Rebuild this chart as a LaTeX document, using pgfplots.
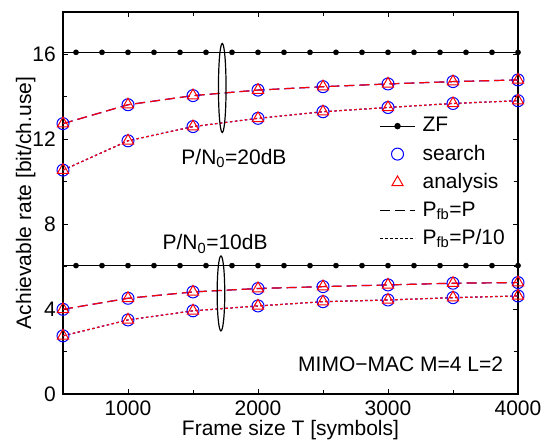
\documentclass[border=0pt]{standalone}
\usepackage{fontspec}
\setmainfont{Liberation Sans}
\usepackage{pgfplots}
\pgfplotsset{compat=1.18}
\begin{document}
\fontsize{21bp}{25bp}\selectfont
\begin{tikzpicture}
\useasboundingbox (-63bp,-51bp) rectangle (486bp,394bp);
\begin{axis}[
 scale only axis, width=455bp, height=382bp,
 xmin=500, xmax=4000, ymin=0, ymax=18,
 xtick={1000,2000,3000,4000}, minor xtick={1500,2500,3500},
 ytick={0,4,8,12,16}, minor ytick={2,6,10,14},
 tick align=inside, major tick length=5bp, minor tick length=4bp,
 axis line style={line width=1.2bp},
 every tick/.style={black, line width=0.9bp},
 /pgf/number format/assume math mode=true,
 /pgf/number format/1000 sep={},
 tick label style={font=\fontsize{21bp}{25bp}\selectfont},
 label style={font=\fontsize{21bp}{25bp}\selectfont},
 xlabel={Frame size T [symbols]},
 ylabel={Achievable rate [bit/ch.use]},
 xlabel style={at={(axis description cs:0.5,-0.095)}, anchor=center},
 ylabel style={at={(axis description cs:-0.082,0.5)}, anchor=center},
 clip=false,
 legend image code/.code={\draw[mark repeat=2,mark phase=2,#1] plot coordinates {(0bp,0bp) (17.5bp,0bp) (35bp,0bp)};},
 legend style={draw=none, fill=none, at={(0.695,0.73)}, anchor=north west,
   font=\fontsize{21bp}{25bp}\selectfont, row sep=6bp, inner sep=0pt},
 legend cell align=left,
]
% ZF lines
\addplot[black, line width=1.2bp, forget plot] coordinates {(500,16.1)(4000,16.1)};
\addplot[black, only marks, mark=*, mark size=2.6bp, forget plot] coordinates {
(600,16.1)(800,16.1)(1000,16.1)(1200,16.1)(1400,16.1)(1600,16.1)(1800,16.1)(2000,16.1)(2200,16.1)
(2400,16.1)(2600,16.1)(2800,16.1)(3000,16.1)(3200,16.1)(3400,16.1)(3600,16.1)(3800,16.1)(4000,16.1)};
\addplot[black, line width=1.2bp, forget plot] coordinates {(500,6.05)(4000,6.05)};
\addplot[black, only marks, mark=*, mark size=2.6bp, forget plot] coordinates {
(600,6.05)(800,6.05)(1000,6.05)(1200,6.05)(1400,6.05)(1600,6.05)(1800,6.05)(2000,6.05)(2200,6.05)
(2400,6.05)(2600,6.05)(2800,6.05)(3000,6.05)(3200,6.05)(3400,6.05)(3600,6.05)(3800,6.05)(4000,6.05)};
% 20 dB, P_fb = P
\addplot[blue, line width=1.2bp, dash pattern=on 10bp off 5bp, mark=o, mark size=6bp, mark options={solid, line width=1bp}, forget plot] coordinates {
(500,12.74)(1000,13.63)(1500,14.06)(2000,14.32)(2500,14.48)(3000,14.61)(3500,14.72)(4000,14.80)};
\addplot[red, line width=1.2bp, dash pattern=on 10bp off 5bp, mark=triangle, mark size=6.5bp, mark options={solid, line width=1bp}, forget plot] coordinates {
(500,12.74)(1000,13.63)(1500,14.06)(2000,14.32)(2500,14.48)(3000,14.61)(3500,14.72)(4000,14.80)};
% 20 dB, P_fb = P/10
\addplot[blue, line width=1.2bp, dash pattern=on 2.5bp off 2.5bp, mark=o, mark size=6bp, mark options={solid, line width=1bp}, forget plot] coordinates {
(500,10.55)(1000,11.93)(1500,12.60)(2000,12.99)(2500,13.30)(3000,13.50)(3500,13.69)(4000,13.82)};
\addplot[red, line width=1.2bp, dash pattern=on 2.5bp off 2.5bp, mark=triangle, mark size=6.5bp, mark options={solid, line width=1bp}, forget plot] coordinates {
(500,10.55)(1000,11.93)(1500,12.60)(2000,12.99)(2500,13.30)(3000,13.50)(3500,13.69)(4000,13.82)};
% 10 dB, P_fb = P
\addplot[blue, line width=1.2bp, dash pattern=on 10bp off 5bp, mark=o, mark size=6bp, mark options={solid, line width=1bp}, forget plot] coordinates {
(500,3.99)(1000,4.51)(1500,4.81)(2000,4.97)(2500,5.06)(3000,5.14)(3500,5.22)(4000,5.25)};
\addplot[red, line width=1.2bp, dash pattern=on 10bp off 5bp, mark=triangle, mark size=6.5bp, mark options={solid, line width=1bp}, forget plot] coordinates {
(500,3.99)(1000,4.51)(1500,4.81)(2000,4.97)(2500,5.06)(3000,5.14)(3500,5.22)(4000,5.25)};
% 10 dB, P_fb = P/10
\addplot[blue, line width=1.2bp, dash pattern=on 2.5bp off 2.5bp, mark=o, mark size=6bp, mark options={solid, line width=1bp}, forget plot] coordinates {
(500,2.74)(1000,3.49)(1500,3.92)(2000,4.15)(2500,4.35)(3000,4.43)(3500,4.54)(4000,4.62)};
\addplot[red, line width=1.2bp, dash pattern=on 2.5bp off 2.5bp, mark=triangle, mark size=6.5bp, mark options={solid, line width=1bp}, forget plot] coordinates {
(500,2.74)(1000,3.49)(1500,3.92)(2000,4.15)(2500,4.35)(3000,4.43)(3500,4.54)(4000,4.62)};
% legend
\addlegendimage{black, line width=1.2bp, mark=*, mark size=2.6bp}
\addlegendentry{\hspace*{5bp}ZF}
\addlegendimage{blue, only marks, mark=o, mark size=6bp, line width=1bp}
\addlegendentry{\hspace*{5bp}search}
\addlegendimage{red, only marks, mark=triangle, mark size=6.5bp, line width=1bp}
\addlegendentry{\hspace*{5bp}analysis}
\addlegendimage{black, line width=1.2bp, dash pattern=on 10bp off 5bp}
\addlegendentry{\hspace*{5bp}P\textsubscript{fb}=P}
\addlegendimage{black, line width=1.2bp, dash pattern=on 2.5bp off 2.5bp}
\addlegendentry{\hspace*{5bp}P\textsubscript{fb}=P/10}
% annotations
\draw[black, line width=1.2bp] (axis cs:1725,14.42) ellipse [x radius=3.8bp, y radius=44.5bp];
\draw[black, line width=1.2bp] (axis cs:1715,4.74) ellipse [x radius=3.8bp, y radius=37.5bp];
\node at (axis cs:1815,11.1) {P/N\textsubscript{0}=20dB};
\node at (axis cs:1670,7.07) {P/N\textsubscript{0}=10dB};
\node[anchor=east] at (axis cs:3940,1.41) {MIMO−MAC M=4 L=2};
\end{axis}
\end{tikzpicture}
\end{document}
